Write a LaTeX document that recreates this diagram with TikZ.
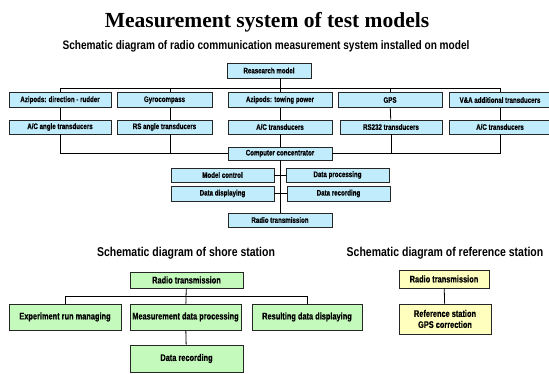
\documentclass[tikz,border=0pt]{standalone}
\usepackage{fontspec}
\setmainfont{Liberation Serif}
\newfontfamily\narrowfont[FakeStretch=0.82]{Liberation Sans}
\newfontfamily\boxfont[FakeStretch=0.77, FakeBold=0.5]{Liberation Sans Bold}
\definecolor{boxblue}{RGB}{192,236,252}
\definecolor{boxgreen}{RGB}{196,250,188}
\definecolor{boxyellow}{RGB}{255,255,190}
\begin{document}
\begin{tikzpicture}[x=1pt,y=-1pt]
				\tikzstyle{every path} = [line width=0.8pt]
				\tikzstyle{Box} = [draw=black!85, line width=0.9pt, inner sep=0pt, align=center, font=\boxfont\fontsize{8}{9}\selectfont]
				\tikzstyle{Blue} = [Box, fill=boxblue, minimum height=14]
				\tikzstyle{Green} = [Box, fill=boxgreen, font=\boxfont\fontsize{9.6}{11}\selectfont]
				\tikzstyle{Yellow} = [Box, fill=boxyellow, font=\boxfont\fontsize{9.6}{11}\selectfont]
				\tikzstyle{Heading} = [anchor=base, inner sep=0pt, font=\narrowfont\bfseries\fontsize{12.8}{14}\selectfont]
				\useasboundingbox (0,0) rectangle (549,374);
				\node (title) at (267,28) [anchor=base, inner sep=0pt, font=\bfseries\fontsize{21.5}{24}\selectfont] {Measurement system of test models};
				\node (sub) at (266,50) [Heading, font=\narrowfont\bfseries\fontsize{12.3}{14}\selectfont] {Schematic diagram of radio communication measurement system installed on model};
				\node (RM) at (269,70.5) [Blue, minimum width=84, minimum height=15] {Reasearch model};
				\node (A1) at (60,100) [Blue, minimum width=102, minimum height=15] {Azipods: direction - rudder};
				\node (A2) at (164.5,100) [Blue, minimum width=95, minimum height=15] {Gyrocompass};
				\node (A3) at (280,100) [Blue, minimum width=104, minimum height=15] {Azipods: towing power};
				\node (A4) at (390,100) [Blue, minimum width=104, minimum height=15] {GPS};
				\node (A5) at (500,100) [Blue, minimum width=102, minimum height=15] {V\&A additional transducers};
				\node (C1) at (60,127) [Blue, minimum width=102] {A/C angle transducers};
				\node (C2) at (164.5,127) [Blue, minimum width=95] {RS angle transducers};
				\node (C3) at (280,127) [Blue, minimum width=104] {A/C transducers};
				\node (C4) at (391,127) [Blue, minimum width=102] {RS232 transducers};
				\node (C5) at (500,127) [Blue, minimum width=102] {A/C transducers};
				\node (CC) at (280,153.5) [Blue, minimum width=104, minimum height=13] {Computer concentrator};
				\node (MC) at (222.5,175) [Blue, minimum width=103] {Model control};
				\node (DP) at (337.5,175) [Blue, minimum width=103] {Data processing};
				\node (DD) at (222.5,193.5) [Blue, minimum width=103, minimum height=15] {Data displaying};
				\node (DR) at (338.5,193.5) [Blue, minimum width=103, minimum height=15] {Data recording};
				\node (RT) at (280,220) [Blue, minimum width=104] {Radio transmission};
				\coordinate (busTop) at (0,88);
				\draw [-] ([xshift=11]RM.south) -- ([xshift=11]RM.south |- busTop);
				\draw [-] (A1.north) -- (A1.north |- busTop) -- (A5.north |- busTop) -- (A5.north);
				\draw [-] ([xshift=6]A2.north) -- ([xshift=6]A2.north |- busTop);
				\draw [-] (A3.north) -- (A3.north |- busTop);
				\draw [-] (A4.north) -- (A4.north |- busTop);
				\draw [-] (A1) to (C1);
				\draw [-] ([xshift=6]A2.south) to ([xshift=6]C2.north);
				\draw [-] (A3) to (C3);
				\draw [-] (A4) to (C4);
				\draw [-] (A5) to (C5);
				\draw [-] (C1.south) |- (CC.west);
				\draw [-] ([xshift=6]C2.south) |- (CC.west);
				\draw [-] (C3) to (CC);
				\draw [-] (C4.south) |- (CC.east);
				\draw [-] (C5.south) |- (CC.east);
				\draw [-] (CC) to (RT);
				\draw [-] (MC) to (DP);
				\draw [-] (DD) to (DR);
				% shore station
				\node (shore) at (186,257) [Heading] {Schematic diagram of shore station};
				\node (SR) at (186.5,280) [Green, minimum width=113, minimum height=16] {Radio transmission};
				\node (S1) at (65,317) [Green, minimum width=112, minimum height=26] {Experiment run managing};
				\node (S2) at (185.5,317) [Green, minimum width=111, minimum height=26] {Measurement data processing};
				\node (S3) at (307,317) [Green, minimum width=110, minimum height=26] {Resulting data displaying};
				\node (S4) at (186.5,358.5) [Green, minimum width=113, minimum height=27] {Data recording};
				\coordinate (busShore) at (0,296);
				\draw [-] (S1.north) -- (S1.north |- busShore) -- (S3.north |- busShore) -- (S3.north);
				\draw [-] (SR) to (S2);
				\draw [-] (S2) to (S4);
				% reference station
				\node (ref) at (445,257) [Heading] {Schematic diagram of reference station};
				\node (YR) at (444,279) [Yellow, minimum width=90, minimum height=18] {Radio transmission};
				\node (YS) at (445,319) [Yellow, minimum width=92, minimum height=30] {Reference station\\GPS correction};
				\draw [-] (YR) to (YS);
			\end{tikzpicture}
\end{document}
